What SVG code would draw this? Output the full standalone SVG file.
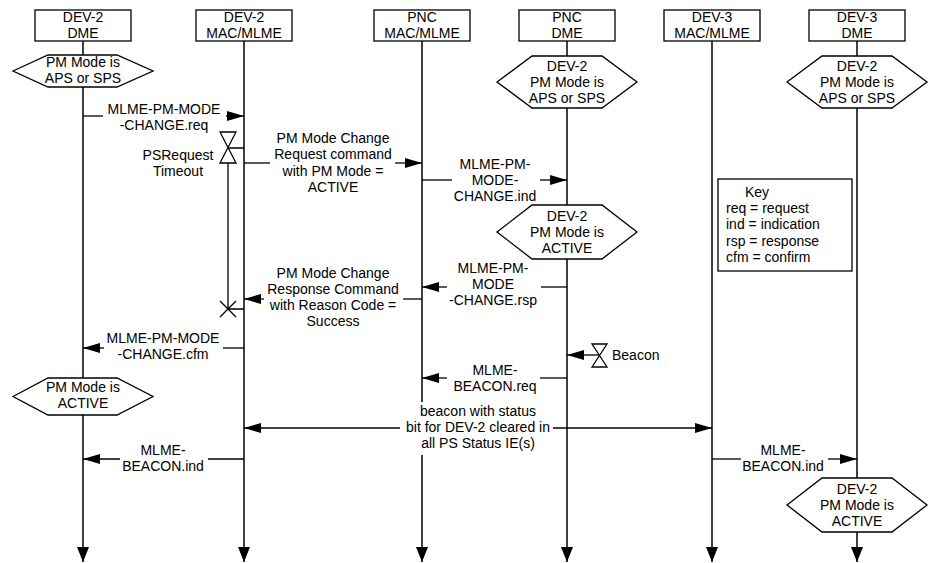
<svg xmlns="http://www.w3.org/2000/svg" width="934" height="563" viewBox="0 0 934 563">
<style>
text{font-family:"Liberation Sans",Arial,sans-serif;font-size:14px;fill:#000}
.c{text-anchor:middle}
.ln{stroke:#000;stroke-width:1.3;fill:none}
.box{stroke:#000;stroke-width:1.3;fill:#fff}
.ll{stroke:#000;stroke-width:1.5;fill:none;marker-end:url(#la)}
.m{marker-end:url(#ah)}
</style>
<defs>
<marker id="ah" viewBox="0 0 17 10" refX="17" refY="5" markerWidth="17" markerHeight="10" markerUnits="userSpaceOnUse" orient="auto-start-reverse"><path d="M0,0 L17,5 L0,10 z" fill="#000"/></marker>
<marker id="la" viewBox="0 0 15 12" refX="15" refY="6" markerWidth="15" markerHeight="12" markerUnits="userSpaceOnUse" orient="auto"><path d="M0,0 L15,6 L0,12 z" fill="#000"/></marker>
</defs>

<g id="dev2-dme">
<path class="ll" d="M83,41 V562"/>
<rect class="box" x="35" y="10" width="96" height="31"/>
<text class="c" x="83" y="22">DEV-2</text><text class="c" x="83" y="38">DME</text>
</g>
<g id="dev2-mac">
<path class="ll" d="M244,41 V562"/>
<rect class="box" x="196" y="10" width="96" height="31"/>
<text class="c" x="244" y="22">DEV-2</text><text class="c" x="244" y="38">MAC/MLME</text>
</g>
<g id="pnc-mac">
<path class="ln" d="M422,41 V402" style="stroke-width:1.5"/>
<path class="ll" d="M422,455 V562"/>
<rect class="box" x="374" y="10" width="96" height="31"/>
<text class="c" x="422" y="22">PNC</text><text class="c" x="422" y="38">MAC/MLME</text>
</g>
<g id="pnc-dme">
<path class="ll" d="M567,41 V562"/>
<rect class="box" x="519" y="10" width="96" height="31"/>
<text class="c" x="567" y="22">PNC</text><text class="c" x="567" y="38">DME</text>
</g>
<g id="dev3-mac">
<path class="ll" d="M712,41 V562"/>
<rect class="box" x="664" y="10" width="96" height="31"/>
<text class="c" x="712" y="22">DEV-3</text><text class="c" x="712" y="38">MAC/MLME</text>
</g>
<g id="dev3-dme">
<path class="ll" d="M857,41 V562"/>
<rect class="box" x="809" y="10" width="96" height="31"/>
<text class="c" x="857" y="22">DEV-3</text><text class="c" x="857" y="38">DME</text>
</g>

<g id="state-dev2-aps">
<polygon class="box" points="13,71 48,55 117,55 153,71 117,87 48,87"/>
<text class="c" x="83" y="67">PM Mode is</text><text class="c" x="83" y="83">APS or SPS</text>
</g>
<g id="state-pnc-aps">
<polygon class="box" points="497,82 532,56 602,56 637,82 602,108 532,108"/>
<text class="c" x="567" y="71">DEV-2</text><text class="c" x="567" y="87">PM Mode is</text><text class="c" x="567" y="103">APS or SPS</text>
</g>
<g id="state-dev3-aps">
<polygon class="box" points="787,82 822,56 892,56 927,82 892,108 822,108"/>
<text class="c" x="857" y="71">DEV-2</text><text class="c" x="857" y="87">PM Mode is</text><text class="c" x="857" y="103">APS or SPS</text>
</g>
<g id="state-pnc-active">
<polygon class="box" points="497,232 532,205 602,205 637,232 602,259 532,259"/>
<text class="c" x="567" y="221">DEV-2</text><text class="c" x="567" y="237">PM Mode is</text><text class="c" x="567" y="253">ACTIVE</text>
</g>
<g id="state-dev2-active">
<polygon class="box" points="13,396.5 48,378 117,378 153,396.5 117,415 48,415"/>
<text class="c" x="83" y="392">PM Mode is</text><text class="c" x="83" y="408">ACTIVE</text>
</g>
<g id="state-dev3-active">
<polygon class="box" points="787,505 822,478 892,478 927,505 892,532 822,532"/>
<text class="c" x="857" y="494">DEV-2</text><text class="c" x="857" y="510">PM Mode is</text><text class="c" x="857" y="526">ACTIVE</text>
</g>

<g id="timer-psrequest">
<path class="ln" d="M220,132 H236 L220,163 H236 Z"/>
<path class="ln" d="M228,148 H244 M228,163 V309 M220,301 L236,317 M236,301 L220,317 M228,309 H244"/>
<text class="c" x="178" y="160">PSRequest</text><text class="c" x="178" y="176">Timeout</text>
</g>
<g id="timer-beacon">
<path class="ln" d="M592,344 H607 L592,367 H607 Z"/>
<text x="612" y="360">Beacon</text>
</g>

<g id="key">
<rect class="box" x="718" y="179" width="134" height="92"/>
<text x="745" y="197">Key</text>
<text x="726" y="213">req = request</text>
<text x="726" y="229">ind = indication</text>
<text x="726" y="246">rsp = response</text>
<text x="726" y="262">cfm = confirm</text>
</g>

<g id="connectors" class="ln">
<path d="M83,116 H103"/><path class="m" d="M226,116 H244"/>
<path d="M244,163 H270"/><path class="m" d="M395,163 H422"/>
<path d="M422,180 H452"/><path class="m" d="M540,180 H567"/>
<path d="M567,287 H541"/><path class="m" d="M447,287 H422"/>
<path d="M422,299 H403"/><path class="m" d="M264,299 H244"/>
<path d="M244,348 H223"/><path class="m" d="M104,348 H83"/>
<path class="m" d="M599,355 H567"/>
<path d="M567,378 H540"/><path class="m" d="M447,378 H422"/>
<path d="M400,428 H244" style="marker-end:url(#ah)"/><path class="m" d="M553,428 H712"/>
<path d="M244,459 H208"/><path class="m" d="M120,459 H83"/>
<path d="M712,459 H741"/><path class="m" d="M828,459 H857"/>
</g>
<g id="labels">
<text class="c" x="164" y="114">MLME-PM-MODE</text><text class="c" x="164" y="130">-CHANGE.req</text>
<text class="c" x="333" y="143">PM Mode Change</text><text class="c" x="333" y="159">Request command</text><text class="c" x="333" y="176">with PM Mode =</text><text class="c" x="333" y="192">ACTIVE</text>
<text class="c" x="495" y="169">MLME-PM-</text><text class="c" x="495" y="185">MODE-</text><text class="c" x="495" y="201">CHANGE.ind</text>
<text class="c" x="493" y="273">MLME-PM-</text><text class="c" x="493" y="289">MODE</text><text class="c" x="493" y="305">-CHANGE.rsp</text>
<text class="c" x="333" y="278">PM Mode Change</text><text class="c" x="333" y="294">Response Command</text><text class="c" x="333" y="310">with Reason Code =</text><text class="c" x="333" y="326">Success</text>
<text class="c" x="163" y="343">MLME-PM-MODE</text><text class="c" x="163" y="359">-CHANGE.cfm</text>
<text class="c" x="495" y="375">MLME-</text><text class="c" x="495" y="391">BEACON.req</text>
<text class="c" x="478" y="416">beacon with status</text><text class="c" x="478" y="432">bit for DEV-2 cleared in</text><text class="c" x="478" y="448">all PS Status IE(s)</text>
<text class="c" x="163" y="455">MLME-</text><text class="c" x="163" y="471">BEACON.ind</text>
<text class="c" x="783" y="455">MLME-</text><text class="c" x="783" y="471">BEACON.ind</text>
</g>
</svg>
